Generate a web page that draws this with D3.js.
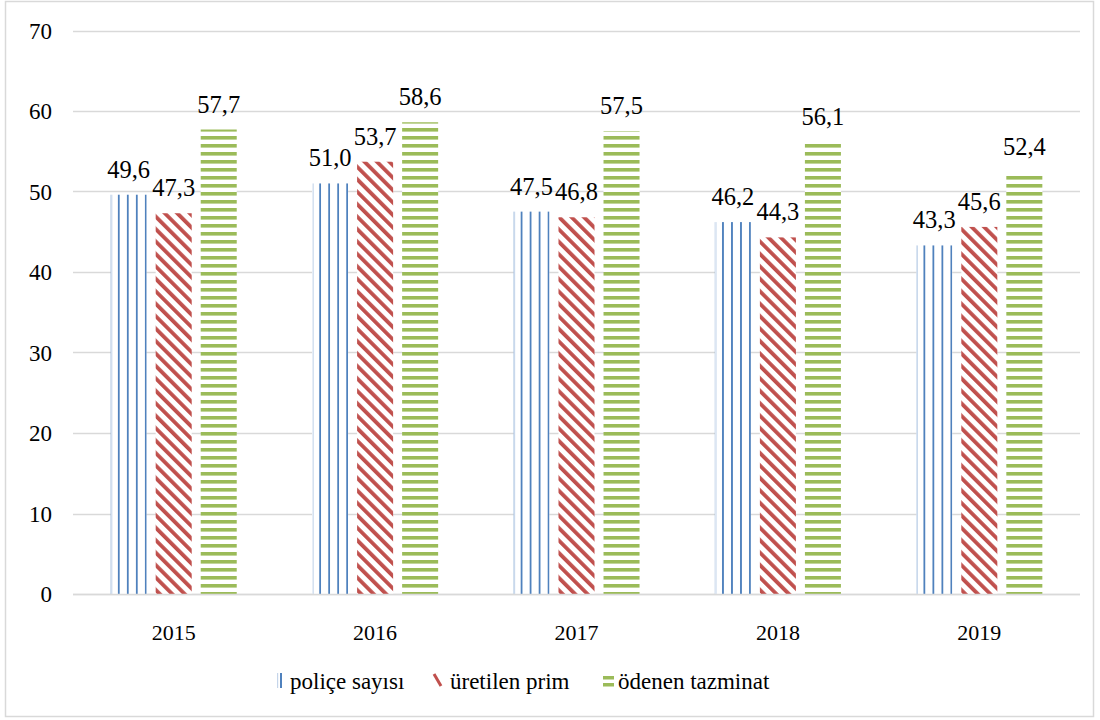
<!DOCTYPE html>
<html>
<head>
<meta charset="utf-8">
<script src="https://cdn.jsdelivr.net/npm/d3@7"></script>
<style>
  html, body { margin: 0; padding: 0; background: #fff; }
  svg text { font-family: "Liberation Serif", "Times New Roman", "DejaVu Serif", serif; }
</style>
</head>
<body>
<svg id="chart" width="1100" height="720"></svg>
<script>
// Years on the category axis
const years = ["2015", "2016", "2017", "2018", "2019"];
// Series names (legend order)
const seriesNames = ["poliçe sayısı", "üretilen prim", "ödenen tazminat"];
// Series values per year
const policeSayisi = [49.6, 51.0, 47.5, 46.2, 43.3];
const uretilenPrim = [47.3, 53.7, 46.8, 44.3, 45.6];
const odenenTazminat = [57.7, 58.6, 57.5, 56.1, 52.4];
// Value axis ticks
const yTicks = [0, 10, 20, 30, 40, 50, 60, 70];

const seriesValues = [policeSayisi, uretilenPrim, odenenTazminat];
const seriesKeys = ["police", "prim", "tazminat"];
const FONT = "'Liberation Serif', 'Times New Roman', 'DejaVu Serif', serif";

const svg = d3.select("#chart");
const plot = { left: 73, right: 1080, top: 30.5, bottom: 594 };

// outer chart frame
svg.append("rect")
  .attr("x", 5.5).attr("y", 1.5)
  .attr("width", 1088).attr("height", 715)
  .attr("fill", "#fff").attr("stroke", "#d9d9d9").attr("stroke-width", 1.5);

// fill patterns
const defs = svg.append("defs");

// vertical lines, tiled relative to each bar (4 tiles across a bar)
const pBlue = defs.append("pattern")
  .attr("id", "pat-police").attr("patternUnits", "objectBoundingBox")
  .attr("patternContentUnits", "userSpaceOnUse")
  .attr("x", 0).attr("y", 0).attr("width", 0.25).attr("height", 1);
pBlue.append("rect").attr("width", 20).attr("height", 2000).attr("fill", "#fff");
pBlue.append("rect").attr("x", 7.2).attr("width", 2.2).attr("height", 2000).attr("fill", "#4f81bd");

// wide downward diagonal stripes
const pRed = defs.append("pattern")
  .attr("id", "pat-prim").attr("patternUnits", "userSpaceOnUse")
  .attr("width", 8.8).attr("height", 10)
  .attr("patternTransform", "rotate(-45)");
pRed.append("rect").attr("width", 8.8).attr("height", 10).attr("fill", "#fff");
pRed.append("rect").attr("x", 0).attr("width", 3.8).attr("height", 10).attr("fill", "#c0504d");

// horizontal stripes
const pGreen = defs.append("pattern")
  .attr("id", "pat-tazminat").attr("patternUnits", "userSpaceOnUse")
  .attr("width", 10).attr("height", 8);
pGreen.append("rect").attr("width", 10).attr("height", 8).attr("fill", "#fff");
pGreen.append("rect").attr("y", 0).attr("width", 10).attr("height", 3.6).attr("fill", "#9bbb59");

// scales
const y = d3.scaleLinear().domain([0, 70]).range([plot.bottom, plot.top]);
const x0 = d3.scaleBand().domain(years).range([plot.left, plot.right])
  .paddingInner(0.374).paddingOuter(0.187);
const x1 = d3.scaleBand().domain(seriesKeys).range([0, x0.bandwidth()])
  .paddingInner(0.2).paddingOuter(0);

// gridlines
svg.append("g")
  .selectAll("line").data(yTicks).join("line")
  .attr("x1", plot.left).attr("x2", plot.right)
  .attr("y1", d => Math.round(y(d)) + 0.5).attr("y2", d => Math.round(y(d)) + 0.5)
  .attr("stroke", "#d9d9d9").attr("stroke-width", 1.3);

// y axis labels
const yAxis = d3.axisLeft(y).tickValues(yTicks).tickSize(0).tickPadding(0);
const gy = svg.append("g").attr("transform", `translate(52,0)`).call(yAxis)
  .attr("font-family", FONT);
gy.select(".domain").remove();
gy.selectAll("text")
  .style("font-family", FONT)
  .attr("font-size", 23).attr("fill", "#000").attr("dy", "0.33em");

// x axis labels
const xAxis = d3.axisBottom(x0).tickSize(0).tickPadding(0);
const gx = svg.append("g").attr("transform", `translate(0,${plot.bottom})`).call(xAxis)
  .attr("font-family", FONT);
gx.select(".domain").remove();
gx.selectAll("text")
  .style("font-family", FONT)
  .attr("font-size", 22).attr("fill", "#000").attr("y", 46).attr("dy", "0");

// bars
const groups = svg.append("g").selectAll("g").data(years).join("g")
  .attr("transform", d => `translate(${x0(d)},0)`);

const fmt = v => d3.format(".1f")(v).replace(".", ",");

seriesKeys.forEach((k, si) => {
  groups.append("rect")
    .attr("x", x1(k))
    .attr("width", x1.bandwidth())
    .attr("y", (d, i) => y(seriesValues[si][i]))
    .attr("height", (d, i) => plot.bottom - y(seriesValues[si][i]))
    .attr("fill", `url(#pat-${k})`);
  if (k === "police") {
    // faint edge line on the left side of the vertical-line bars
    groups.append("rect")
      .attr("x", x1(k) + 0.5)
      .attr("width", 1.2)
      .attr("y", (d, i) => y(seriesValues[si][i]))
      .attr("height", (d, i) => plot.bottom - y(seriesValues[si][i]))
      .attr("fill", "#c9d8ec");
  }
  groups.append("text")
    .attr("x", x1(k) + x1.bandwidth() / 2)
    .attr("y", (d, i) => y(seriesValues[si][i]) - 17)
    .attr("text-anchor", "middle")
    .style("font-family", FONT)
    .attr("font-size", 24.5).attr("fill", "#000")
    .text((d, i) => fmt(seriesValues[si][i]));
});

// zero line over the bars' base
svg.append("line")
  .attr("x1", plot.left).attr("x2", plot.right)
  .attr("y1", Math.round(y(0)) + 0.5).attr("y2", Math.round(y(0)) + 0.5)
  .attr("stroke", "#d9d9d9").attr("stroke-width", 1.3);

// legend
const legendY = 681;
const legendItems = [
  { key: "police", x: 277, textX: 290 },
  { key: "prim", x: 434, textX: 450 },
  { key: "tazminat", x: 603, textX: 618 }
];
const lg = svg.append("g");
legendItems.forEach((it, i) => {
  const g = lg.append("g");
  if (it.key === "police") {
    g.append("rect").attr("x", it.x).attr("y", legendY - 8).attr("width", 1.2).attr("height", 15).attr("fill", "#c5d5ea");
    g.append("rect").attr("x", it.x + 3).attr("y", legendY - 8).attr("width", 2).attr("height", 15).attr("fill", "#4f81bd");
  } else if (it.key === "prim") {
    g.append("line").attr("x1", it.x).attr("y1", legendY - 7).attr("x2", it.x + 7).attr("y2", legendY + 5)
      .attr("stroke", "#c0504d").attr("stroke-width", 3);
  } else {
    g.append("rect").attr("x", it.x).attr("y", legendY - 5).attr("width", 11).attr("height", 3.5).attr("fill", "#9bbb59");
    g.append("rect").attr("x", it.x).attr("y", legendY + 2).attr("width", 11).attr("height", 3.5).attr("fill", "#9bbb59");
  }
  g.append("text")
    .attr("x", it.textX)
    .attr("y", legendY).attr("dy", "0.33em")
    .style("font-family", FONT)
    .attr("font-size", 23).attr("fill", "#000")
    .text(seriesNames[i]);
});
</script>
</body>
</html>
